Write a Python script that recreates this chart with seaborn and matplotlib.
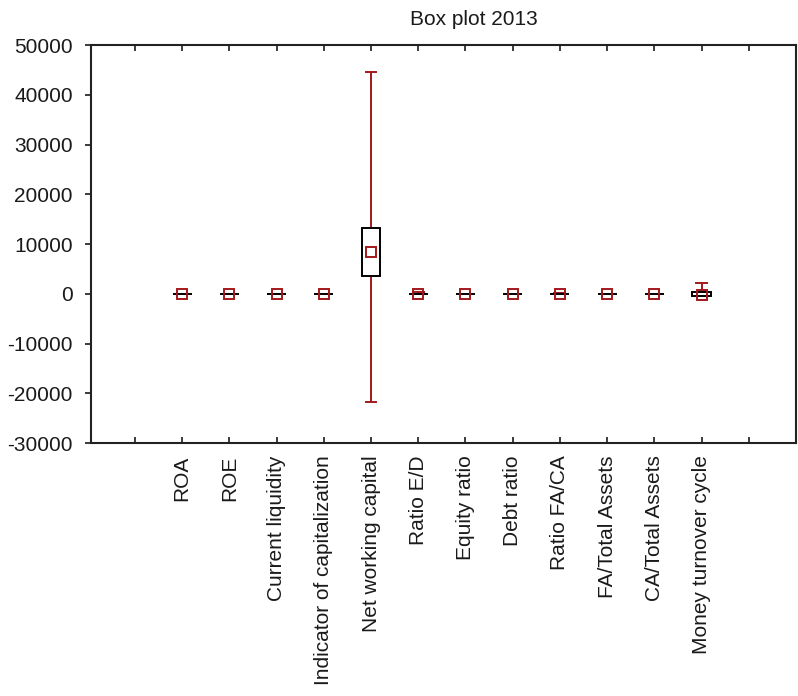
import numpy as np
import pandas as pd
import matplotlib
matplotlib.use("Agg")
import matplotlib.pyplot as plt
import seaborn as sns

# Indicators shown on the x axis
indicators = [
    "ROA", "ROE", "Current liquidity", "Indicator of capitalization",
    "Net working capital", "Ratio E/D", "Equity ratio", "Debt ratio",
    "Ratio FA/CA", "FA/Total Assets", "CA/Total Assets", "Money turnover cycle",
]

# Five-number summaries per indicator (2013)
minimum = [-0.35, -2.1, 0.05, -1.5, -21700, -0.9, -1.2, 0.0, 0.0, 0.0, 0.02, -450]
lower_quartile = [0.01, 0.03, 0.9, 0.2, 3650, 0.25, 0.2, 0.35, 0.2, 0.15, 0.4, -380]
median = [0.04, 0.11, 1.4, 0.45, 8450, 0.7, 0.42, 0.58, 0.6, 0.38, 0.62, -150]
upper_quartile = [0.09, 0.24, 2.3, 0.7, 13150, 1.8, 0.65, 0.8, 1.6, 0.6, 0.85, 420]
maximum = [0.6, 1.8, 45, 1.0, 44500, 350, 1.0, 2.2, 60, 0.98, 1.0, 2100]

y_ticks = [-30000, -20000, -10000, 0, 10000, 20000, 30000, 40000, 50000]

RED = "#a3191c"

plt.rcParams["font.family"] = ["Liberation Sans", "DejaVu Sans"]

# Long-form table: the five summary values of each indicator; with
# whiskers spanning 0-100 % the box reproduces quartiles exactly.
rows = []
for i, name in enumerate(indicators):
    for v in (minimum[i], lower_quartile[i], median[i], upper_quartile[i], maximum[i]):
        rows.append({"indicator": name, "value": v})
df = pd.DataFrame(rows)
med_df = pd.DataFrame({"indicator": indicators, "median": median})

fig = plt.figure(figsize=(7.98, 6.96), dpi=100)
ax = fig.add_axes([0.114, 0.3635, 0.8835, 0.5718])

sns.boxplot(
    data=df, x="indicator", y="value", order=indicators,
    whis=(0, 100), width=0.4, color="white", linecolor="black",
    linewidth=1.4, capwidths=0.23,
    whiskerprops=dict(color=RED, linewidth=1.4),
    capprops=dict(color=RED, linewidth=1.4),
    medianprops=dict(visible=False),
    showfliers=False, ax=ax,
)
for p in ax.patches:
    p.set_zorder(3)

sns.pointplot(
    data=med_df, x="indicator", y="median", order=indicators,
    errorbar=None, linestyle="none", marker="s", markersize=6.5,
    markerfacecolor="none", markeredgecolor=RED, markeredgewidth=1.4,
    color=RED, ax=ax, zorder=4,
)

ax.set_xlim(-1.93, 13.0)
ax.set_ylim(-30000, 50000)
ax.set_yticks(y_ticks)
ax.set_yticklabels([str(t) for t in y_ticks], fontsize=15)
ax.set_xticks(np.arange(-1, len(indicators) + 1))
ax.set_xticklabels([""] + indicators + [""], rotation=90, fontsize=15,
                   ha="center", va="top")
ax.set_xlabel("")
ax.set_ylabel("")
ax.grid(False)

ax.tick_params(axis="x", direction="in", top=True, bottom=True,
               length=4, width=1.2, pad=9, colors="#1a1a1a")
ax.tick_params(axis="y", direction="out", left=True, right=False,
               length=4, width=1.2, pad=9, colors="#1a1a1a")
for s in ax.spines.values():
    s.set_visible(True)
    s.set_linewidth(1.5)
    s.set_color("#222222")

fig.text(0.594, 0.972, "Box plot 2013", ha="center", va="center",
         fontsize=15, color="#1a1a1a")

fig.savefig("out.png", dpi=100)
